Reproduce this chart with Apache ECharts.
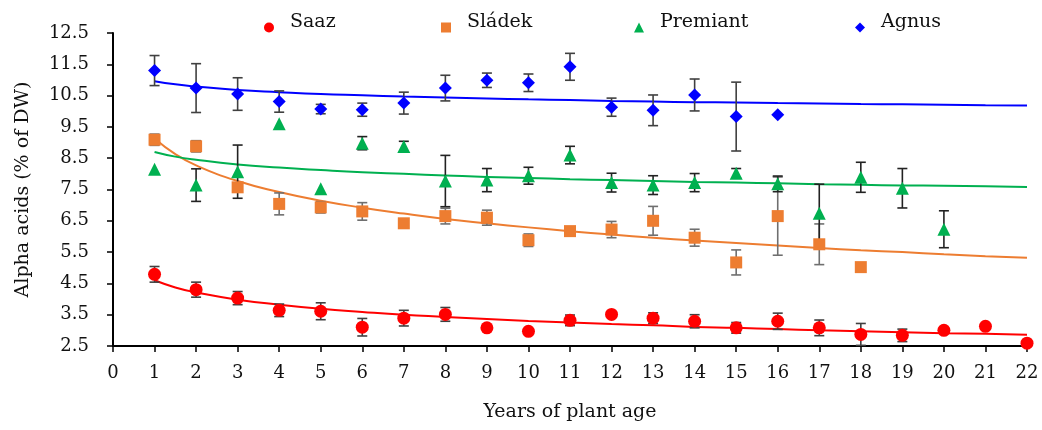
<!DOCTYPE html>
<html>
<head>
<meta charset="utf-8">
<script src="https://cdn.jsdelivr.net/npm/echarts@6/dist/echarts.min.js"></script>
<style>
html,body{margin:0;padding:0;background:#fff;}
#c{width:1042px;height:430px;}
</style>
</head>
<body>
<div id="c"></div>
<script>
// ---- data ----
const years = [1,2,3,4,5,6,7,8,9,10,11,12,13,14,15,16,17,18,19,20,21,22];

const saaz    = [4.79,4.30,4.03,3.64,3.61,3.10,3.39,3.51,3.08,2.97,3.32,3.51,3.39,3.29,3.08,3.29,3.08,2.87,2.84,3.00,3.13,2.59];
const saazErr = [0.25,0.24,0.21,0.20,0.27,0.28,0.25,0.22,0,0,0.17,0,0.17,0.21,0.17,0.26,0.25,0.35,0.20,0,0,0];

const sladek    = [9.09,8.88,7.57,7.04,6.93,6.80,6.42,6.65,6.60,5.88,6.17,6.22,6.50,5.96,5.17,6.65,5.75,5.02];
const sladekErr = [0.18,0.18,0,0.35,0.18,0.28,0,0.25,0.24,0.20,0,0.26,0.46,0.27,0.40,1.25,0.65,0];

const premiant    = [8.15,7.64,8.07,9.60,7.52,8.98,8.87,7.77,7.80,7.94,8.60,7.72,7.64,7.72,8.02,7.68,6.74,7.89,7.54,6.23];
const premiantErr = [0,0.52,0.85,0,0,0.21,0.17,0.82,0.37,0.27,0.28,0.30,0.30,0.29,0.15,0.25,0.93,0.48,0.63,0.59];

const agnus    = [11.30,10.74,10.55,10.31,10.07,10.05,10.26,10.74,10.99,10.91,11.42,10.13,10.03,10.52,9.83,9.89];
const agnusErr = [0.48,0.78,0.52,0.34,0.15,0.21,0.35,0.41,0.23,0.28,0.43,0.29,0.49,0.51,1.10,0];

// trend lines
const trendX        = [1,1.5,2,3,4,5,6,7,8,9,10,11,12,13,14,15,16,17,18,19,20,21,22];
const saazTrend     = [4.60,4.37,4.21,3.98,3.82,3.69,3.59,3.50,3.43,3.36,3.30,3.25,3.20,3.16,3.11,3.08,3.04,3.00,2.97,2.94,2.91,2.89,2.86];
const sladekTrend   = [9.13,8.63,8.27,7.77,7.42,7.14,6.92,6.73,6.56,6.42,6.29,6.17,6.06,5.96,5.87,5.79,5.71,5.63,5.56,5.50,5.43,5.37,5.32];
const premiantTrend = [8.70,8.55,8.45,8.30,8.20,8.12,8.05,8.00,7.95,7.90,7.87,7.83,7.80,7.77,7.74,7.72,7.70,7.67,7.65,7.63,7.62,7.60,7.58];
const agnusTrend    = [10.96,10.86,10.79,10.68,10.61,10.55,10.51,10.47,10.44,10.41,10.38,10.36,10.33,10.31,10.29,10.28,10.26,10.25,10.23,10.22,10.21,10.19,10.18];

const xTicks = [0,22,1];        // min, max, interval
const yTicks = [2.5,12.5,1];    // min, max, interval

// ---- styling ----
const FONT = 'DejaVu Serif';
const colors = {saaz:'#FF0000', sladek:'#ED7D31', premiant:'#00B050', agnus:'#0000FF'};

function pts(xs, ys){ return ys.map((v,i)=>[xs[i], v]); }
function errData(ys, es){
  const out = [];
  ys.forEach((v,i)=>{ if(es[i] > 0) out.push([years[i], v - es[i], v + es[i]]); });
  return out;
}
function errSeries(name, ys, es, color){
  return {
    type:'custom', name:name, z:3, silent:true,
    encode:{x:0, y:[1,2]},
    data: errData(ys, es),
    renderItem: function(params, api){
      const x = api.value(0), lo = api.value(1), hi = api.value(2);
      const pH = api.coord([x, hi]), pL = api.coord([x, lo]);
      const w = 5;
      const st = {stroke: color, lineWidth: 1.6};
      return {type:'group', children:[
        {type:'line', shape:{x1:pH[0], y1:pH[1], x2:pL[0], y2:pL[1]}, style:st},
        {type:'line', shape:{x1:pH[0]-w, y1:pH[1], x2:pH[0]+w, y2:pH[1]}, style:st},
        {type:'line', shape:{x1:pL[0]-w, y1:pL[1], x2:pL[0]+w, y2:pL[1]}, style:st}
      ]};
    }
  };
}
function trendSeries(name, ys, color){
  return {type:'line', name:name, data: pts(trendX, ys), smooth:true, showSymbol:false,
          symbol:'none', z:2, silent:true, lineStyle:{color:color, width:2}};
}
function scatterSeries(name, ys, color, symbol, size){
  return {type:'scatter', name:name, data: pts(years, ys), symbol:symbol, symbolSize:size,
          z:4, itemStyle:{color:color, opacity:1}};
}
function legendAt(name, left){
  return {
    data:[name], left:left, top:8, orient:'horizontal',
    itemWidth:10, itemHeight:10, itemGap:0,
    formatter: n => '{t|' + n + '}',
    textStyle:{fontFamily:FONT, fontSize:19, color:'#111',
      rich:{t:{fontFamily:FONT, fontSize:19, color:'#111', padding:[0,0,10,11]}}},
    selectedMode:false
  };
}

const chart = echarts.init(document.getElementById('c'), null, {renderer:'canvas'});
chart.setOption({
  backgroundColor:'#fff',
  animation:false,
  legend:[
    legendAt('Saaz', 259),
    legendAt('Sládek', 436),
    legendAt('Premiant', 629),
    legendAt('Agnus', 850)
  ],
  grid:{left:113, right:15, top:33, bottom:84, containLabel:false},
  xAxis:{
    type:'value', min:xTicks[0], max:xTicks[1], interval:xTicks[2],
    name:'Years of plant age', nameLocation:'middle', nameGap:57,
    nameTextStyle:{fontFamily:FONT, fontSize:19, color:'#111'},
    axisLine:{show:true, onZero:false, lineStyle:{color:'#000', width:2}},
    axisTick:{show:true, inside:false, length:6, lineStyle:{color:'#000', width:1.5}},
    axisLabel:{fontFamily:FONT, fontSize:18, color:'#111', margin:18},
    splitLine:{show:false}
  },
  yAxis:{
    type:'value', min:yTicks[0], max:yTicks[1], interval:yTicks[2],
    name:'Alpha acids (% of DW)', nameLocation:'middle', nameGap:80, nameRotate:90,
    nameTextStyle:{fontFamily:FONT, fontSize:19, color:'#111'},
    axisLine:{show:true, onZero:false, lineStyle:{color:'#000', width:2}},
    axisTick:{show:true, inside:false, length:6, lineStyle:{color:'#000', width:1.5}},
    axisLabel:{fontFamily:FONT, fontSize:18, color:'#111', margin:24,
      formatter: v => v.toFixed(1)},
    splitLine:{show:false}
  },
  series:[
    trendSeries('Saaz trend', saazTrend, colors.saaz),
    trendSeries('Sládek trend', sladekTrend, colors.sladek),
    trendSeries('Premiant trend', premiantTrend, colors.premiant),
    trendSeries('Agnus trend', agnusTrend, colors.agnus),
    errSeries('Saaz err', saaz, saazErr, '#404040'),
    errSeries('Sládek err', sladek, sladekErr, '#6f6f6f'),
    errSeries('Premiant err', premiant, premiantErr, '#222222'),
    errSeries('Agnus err', agnus, agnusErr, '#404040'),
    scatterSeries('Saaz', saaz, colors.saaz, 'circle', 13),
    scatterSeries('Sládek', sladek, colors.sladek, 'rect', 12),
    scatterSeries('Premiant', premiant, colors.premiant, 'triangle', 13),
    scatterSeries('Agnus', agnus, colors.agnus, 'diamond', 13)
  ]
});
</script>
</body>
</html>
